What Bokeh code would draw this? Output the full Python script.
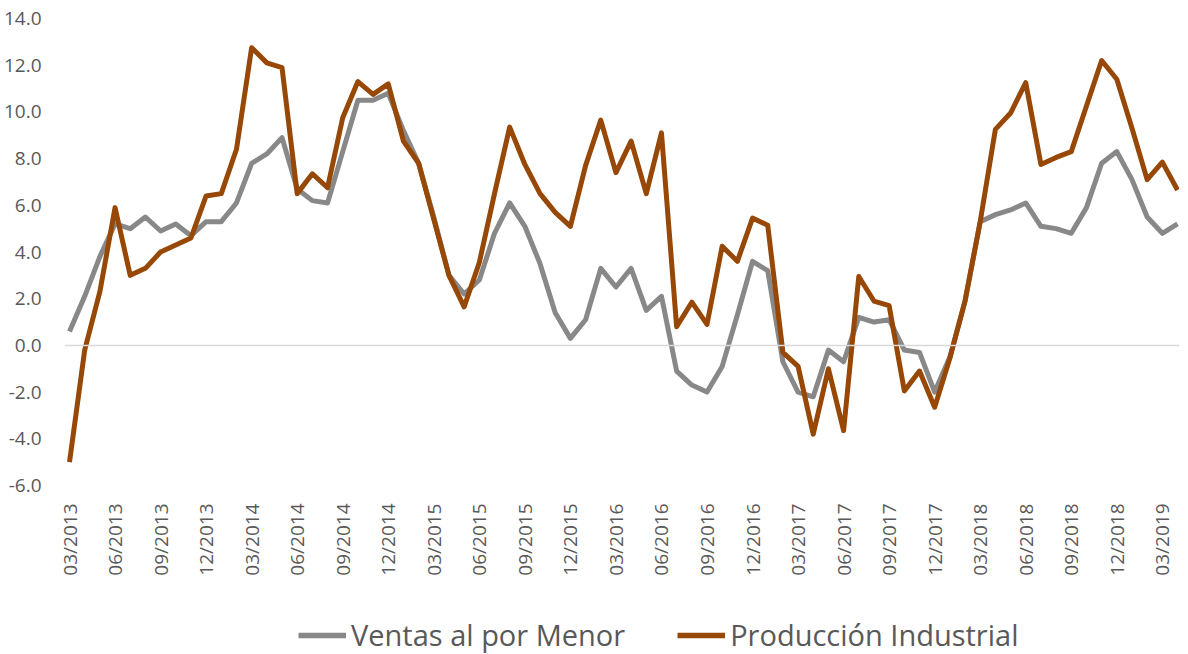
from bokeh.plotting import figure
from bokeh.layouts import column
from bokeh.models import FixedTicker, NumeralTickFormatter, Span, Legend, LegendItem, Range1d, ColumnDataSource
from bokeh.embed import file_html
from bokeh.resources import INLINE

# Monthly series, 03/2013 .. 04/2019
ventas = [0.6, 2.1, 3.8, 5.2, 5.0, 5.5, 4.9, 5.2, 4.7, 5.3, 5.3, 6.1,
          7.8, 8.2, 8.9, 6.7, 6.2, 6.1, 8.3, 10.5, 10.5, 10.8, 9.2, 7.8,
          5.5, 3.0, 2.2, 2.8, 4.8, 6.1, 5.1, 3.5, 1.4, 0.3, 1.1, 3.3,
          2.5, 3.3, 1.5, 2.1, -1.1, -1.7, -2.0, -0.9, 1.3, 3.6, 3.2, -0.7,
          -2.0, -2.2, -0.2, -0.7, 1.2, 1.0, 1.1, -0.2, -0.3, -2.0, -0.5, 1.9,
          5.3, 5.6, 5.8, 6.1, 5.1, 5.0, 4.8, 5.9, 7.8, 8.3, 7.1, 5.5,
          4.8, 5.2]
produccion = [-5.0, -0.2, 2.3, 5.9, 3.0, 3.3, 4.0, 4.3, 4.6, 6.4, 6.5, 8.4,
              12.75, 12.1, 11.9, 6.5, 7.35, 6.75, 9.75, 11.3, 10.75, 11.2, 8.75, 7.8,
              5.4, 3.0, 1.65, 3.55, 6.5, 9.35, 7.75, 6.5, 5.7, 5.1, 7.7, 9.65,
              7.4, 8.75, 6.5, 9.1, 0.8, 1.85, 0.9, 4.25, 3.6, 5.45, 5.15, -0.3,
              -0.9, -3.8, -1.0, -3.65, 2.95, 1.9, 1.7, -1.95, -1.1, -2.65, -0.55, 1.9,
              5.3, 9.25, 9.95, 11.25, 7.75, 8.05, 8.3, 10.25, 12.2, 11.4, 9.3, 7.1,
              7.85, 6.65]
tick_labels = ["03/2013", "06/2013", "09/2013", "12/2013", "03/2014", "06/2014",
               "09/2014", "12/2014", "03/2015", "06/2015", "09/2015", "12/2015",
               "03/2016", "06/2016", "09/2016", "12/2016", "03/2017", "06/2017",
               "09/2017", "12/2017", "03/2018", "06/2018", "09/2018", "12/2018",
               "03/2019"]
y_ticks = [-6, -4, -2, 0, 2, 4, 6, 8, 10, 12, 14]
series_names = ["Ventas al por Menor", "Producción Industrial"]
colors = ["#888888", "#974806"]

idx = list(range(len(ventas)))
src = ColumnDataSource(data=dict(x=idx, ventas=ventas, produccion=produccion))

p = figure(frame_width=1115, frame_height=467, output_backend="svg", toolbar_location=None,
           x_range=Range1d(-0.33, 73.13), y_range=Range1d(-6, 14),
           min_border_left=57, min_border_right=0, min_border_top=18, min_border_bottom=0)

p.outline_line_color = None
p.xgrid.grid_line_color = None
p.ygrid.grid_line_color = None
p.background_fill_color = "white"
p.border_fill_color = "white"

zero = Span(location=0, dimension="width", line_color="#d9d9d9", line_width=1.5)
p.add_layout(zero)

p.line("x", "ventas", source=src, line_color=colors[0], line_width=5, line_join="round")
p.line("x", "produccion", source=src, line_color=colors[1], line_width=5, line_join="round")

font = "Open Sans"
lab_col = "#595959"

p.yaxis.ticker = FixedTicker(ticks=y_ticks)
p.yaxis.formatter = NumeralTickFormatter(format="0.0")
p.yaxis.axis_line_color = None
p.yaxis.major_tick_line_color = None
p.yaxis.minor_tick_line_color = None
p.yaxis.major_label_text_font = font
p.yaxis.major_label_text_font_size = "19px"
p.yaxis.major_label_text_color = lab_col
p.yaxis.major_label_standoff = 17

xt = list(range(0, 73, 3))
p.xaxis.ticker = FixedTicker(ticks=xt)
p.xaxis.major_label_overrides = {t: l for t, l in zip(xt, tick_labels)}
p.xaxis.major_label_orientation = 1.5707963
p.xaxis.axis_line_color = None
p.xaxis.major_tick_line_color = None
p.xaxis.minor_tick_line_color = None
p.xaxis.major_label_text_font = font
p.xaxis.major_label_text_font_size = "19px"
p.xaxis.major_label_text_color = lab_col
p.xaxis.major_label_standoff = 12

# Legend strip below the chart
q = figure(width=1172, height=80, output_backend="svg", toolbar_location=None,
           x_range=Range1d(0, 1), y_range=Range1d(0, 1),
           x_axis_location=None, y_axis_location=None,
           min_border_left=0, min_border_right=0, min_border_top=0, min_border_bottom=0)
q.outline_line_color = None
q.xgrid.grid_line_color = None
q.ygrid.grid_line_color = None
q.border_fill_color = "white"
g1 = q.line(x=[-5, -4], y=[-5, -4], line_color=colors[0], line_width=5.5)
g2 = q.line(x=[-5, -4], y=[-5, -4], line_color=colors[1], line_width=5.5)

legend = Legend(items=[LegendItem(label=series_names[0], renderers=[g1]),
                       LegendItem(label=series_names[1], renderers=[g2])],
                orientation="horizontal", location=(234, 4),
                padding=0, margin=0, spacing=52, glyph_width=48, glyph_height=20,
                label_standoff=5, border_line_color=None, background_fill_alpha=0,
                label_text_font=font, label_text_font_size="29px",
                label_text_color=lab_col)
q.add_layout(legend, "center")

layout = column(p, q, spacing=0)
open("out.html", "w").write(file_html(layout, INLINE))
